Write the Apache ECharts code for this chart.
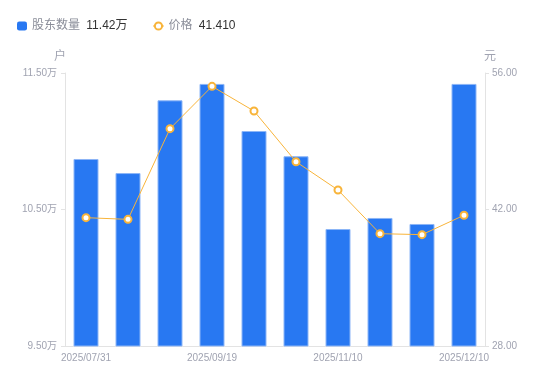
<!DOCTYPE html>
<html><head><meta charset="utf-8">
<script src="https://cdn.jsdelivr.net/npm/echarts@6/dist/echarts.min.js"></script>
<style>html,body{margin:0;padding:0;background:#fff}#c{width:550px;height:381px}</style>
</head><body><div id="c"></div>
<script>
const categories = ['2025/07/31','2025/08/20','2025/08/31','2025/09/19','2025/09/30','2025/10/20','2025/11/10','2025/11/20','2025/11/30','2025/12/10'];
const holders = [10.87, 10.767, 11.30, 11.42, 11.075, 10.89, 10.357, 10.438, 10.394, 11.42];
const price = [41.16, 40.99, 50.29, 54.63, 52.10, 46.90, 44.00, 39.52, 39.42, 41.41];
const leftTicks = {min: 9.5, max: 11.5, interval: 1};
const rightTicks = {min: 28, max: 56, interval: 14};
const lastHolder = '11.42万';
const lastPrice = '41.410';

const FONT = '"Liberation Sans", Arial, "Noto Sans CJK SC", sans-serif';
const chart = echarts.init(document.getElementById('c'));
const labelColor = '#a0a3b1';
chart.setOption({
  animation: false,
  legend: {
    left: 12, top: 15, itemGap: 25, itemWidth: 10, itemHeight: 9,
    textStyle: {fontSize: 12, color: '#8a8d99', fontFamily: FONT,
      rich: {v: {fontSize: 12, color: '#333', padding: [0,0,0,3], fontFamily: FONT}}},
    formatter: n => n === '股东数量' ? '股东数量 {v|' + lastHolder + '}' : '价格 {v|' + lastPrice + '}',
    data: [{name: '股东数量', icon: 'roundRect', itemStyle: {borderWidth: 0}}, {name: '价格'}]
  },
  grid: {left: 65, right: 65, top: 73, bottom: 35},
  xAxis: {
    type: 'category', data: categories,
    axisLine: {lineStyle: {color: '#e3e3e3'}},
    axisTick: {show: false},
    axisLabel: {color: labelColor, fontSize: 10, interval: 2, margin: 7, fontFamily: FONT}
  },
  yAxis: [{
    type: 'value', min: leftTicks.min, max: leftTicks.max, interval: leftTicks.interval,
    name: '户', nameGap: 10, nameTextStyle: {color: labelColor, fontSize: 12, padding: [0, 10, 0, 0], fontFamily: FONT},
    axisLine: {show: true, lineStyle: {color: '#e3e3e3'}},
    axisTick: {show: true, length: 4, lineStyle: {color: '#e3e3e3'}},
    splitLine: {show: false},
    axisLabel: {color: labelColor, fontSize: 10, margin: 8, fontFamily: FONT, formatter: v => v.toFixed(2) + '万'}
  }, {
    type: 'value', min: rightTicks.min, max: rightTicks.max, interval: rightTicks.interval,
    name: '元', nameGap: 10, nameTextStyle: {color: labelColor, fontSize: 12, padding: [0, 0, 0, 10], fontFamily: FONT},
    axisLine: {show: true, lineStyle: {color: '#e3e3e3'}},
    axisTick: {show: true, length: 4, lineStyle: {color: '#e3e3e3'}},
    splitLine: {show: false},
    axisLabel: {color: labelColor, fontSize: 10, margin: 7, fontFamily: FONT, formatter: v => v.toFixed(2)}
  }],
  series: [{
    name: '股东数量', type: 'bar', data: holders, barWidth: 25, yAxisIndex: 0,
    itemStyle: {color: '#2878f2', borderColor: '#8db6f7', borderWidth: 1}
  }, {
    name: '价格', type: 'line', data: price, yAxisIndex: 1,
    symbol: 'circle', symbolSize: 7,
    lineStyle: {color: '#f8b43a', width: 1},
    itemStyle: {color: '#fff', borderColor: '#f8b43a', borderWidth: 2}
  }]
});
</script></body></html>
